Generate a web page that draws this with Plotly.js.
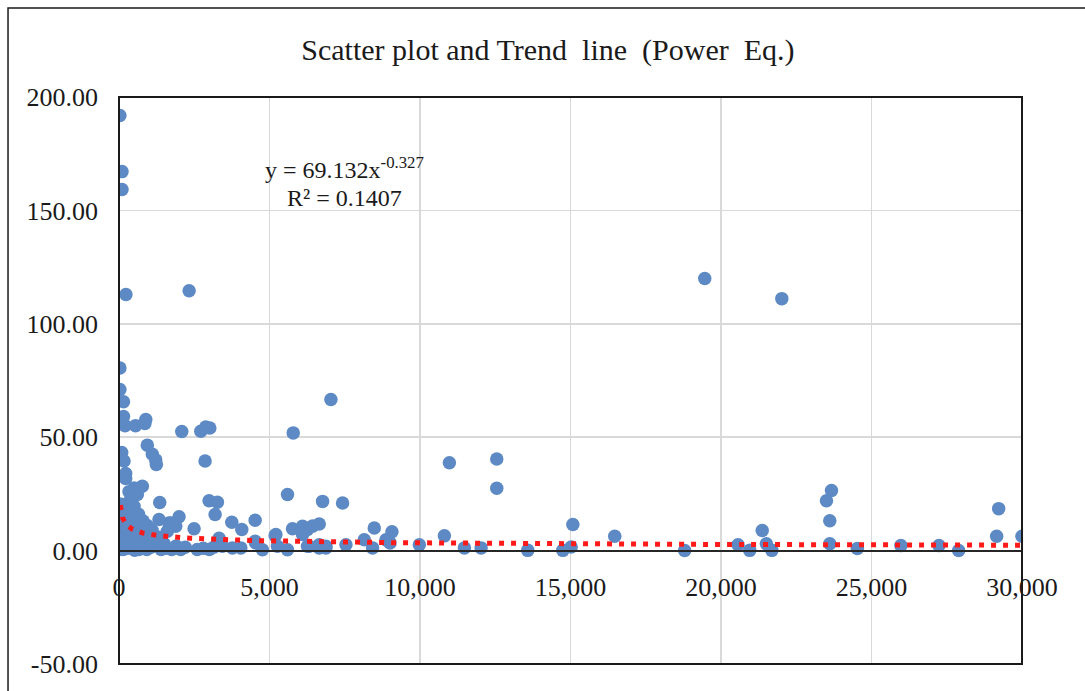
<!DOCTYPE html>
<html>
<head>
<meta charset="utf-8">
<script src="https://cdn.plot.ly/plotly-3.0.1.min.js"></script>
<style>html,body{margin:0;padding:0;background:#fff;}#chart{width:1085px;height:691px;}</style>
</head>
<body>
<div id="chart"></div>
<script>
// Observed data points (x, y)
const xVals = [
  30,100,100,230,2330,19460,22020,
  30,30,150,150,200,550,890,860,
  2085,2717,2883,3017,2860,5788,7040,
  90,166,222,222,941,1108,1220,1241,
  333,499,775,389,609,1353,2993,3270,3193,
  5598,6763,7428,166,499,
  3748,4523,4080,1330,1996,2494,1718,1663,1885,1607,
  5765,6097,6652,6430,6263,5188,5211,6097,4766,5598,3326,4523,
  10976,12550,12550,8481,9068,10810,8149,7540,8425,8870,9004,9978,11475,12030,
  6652,6874,6319,
  15078,16470,15023,13580,14745,18792,20565,20954,21370,21507,21690,
  23504,23671,23614,23614,24530,25976,27240,27895,29225,29158,30000,
  3436,3768,4047,4546,5265,6263,6652,6874,
  30,60,80,40,60,30,50,30,
  150,130,170,120,160,140,
  260,240,280,250,300,
  380,360,400,390,420,
  520,500,540,560,520,
  650,680,630,700,660,
  800,760,820,780,
  950,900,980,920,
  1100,1150,1060,
  1300,1250,1400,1500,1600,1750,1900,2050,2200,
  2600,2800,3000,3150
];
const yVals = [
  191.8,167.1,159.2,112.9,114.6,120.0,111.1,
  80.5,71.0,65.6,59.1,55.1,55.1,57.8,56.0,
  52.5,52.6,54.5,54.1,39.5,51.9,66.6,
  43.2,39.5,34.0,31.8,46.5,42.5,40.0,38.0,
  26.0,27.6,28.4,22.5,24.7,21.2,22.0,21.3,15.9,
  24.7,21.7,21.0,20.3,19.5,
  12.5,13.4,9.3,13.7,14.9,9.6,12.2,12.2,10.7,8.5,
  9.6,10.7,11.7,10.8,9.3,6.6,7.1,7.1,0.4,0.4,5.4,4.1,
  38.7,40.4,27.5,10.0,8.3,6.5,4.8,2.6,1.2,4.8,3.4,2.6,1.2,1.2,
  2.6,1.9,1.9,
  11.5,6.3,1.6,0.1,0.1,0.0,2.6,0.1,8.9,3.0,0.1,
  22.0,26.5,13.2,3.0,0.9,2.2,2.2,0.0,18.5,6.3,6.3,
  1.9,1.2,1.2,3.4,1.9,1.9,1.2,1.2,
  20.5,17,14,11,8,5,2,0.5,
  16,12,9,6,3,0.5,
  15,11,8,4,1,
  17,13,9,5,1.5,
  14,10,6,2.5,0.2,
  16,12,8,4,0.5,
  13,9,5,1,
  11,7,3,0.5,
  9,5,1.5,
  6,2,0.5,3,1,0.5,2,0.5,1.5,
  0.5,1,0.5,1.5
];

// Trend line shown in the chart: y = 69.132 x^-0.327
const trendCoef = 69.132;
const trendExp = -0.327;
const trendStart = 44;
const trendEnd = 30000;

const xTicks = [0, 5000, 10000, 15000, 20000, 25000, 30000];
const yTicks = [-50, 0, 50, 100, 150, 200];
const yTickText = ['-50.00', '0.00', '50.00', '100.00', '150.00', '200.00'];

const trendX = [];
const trendY = [];
for (let i = 0; i <= 300; i++) {
  const x = trendStart * Math.pow(trendEnd / trendStart, i / 300);
  trendX.push(x);
  trendY.push(trendCoef * Math.pow(x, trendExp));
}

const serif = 'Liberation Serif, Times New Roman, serif';

const data = [
  {
    type: 'scatter', mode: 'markers', x: xVals, y: yVals,
    marker: {size: 13.5, color: '#5d8ac5'}, hoverinfo: 'x+y', showlegend: false
  },
  {
    type: 'scatter', mode: 'lines', x: trendX, y: trendY,
    line: {color: '#ff1a1a', width: 5, dash: '5px,7px'}, showlegend: false
  }
];

const layout = {
  width: 1085, height: 691,
  margin: {l: 119, r: 63, t: 97, b: 27},
  paper_bgcolor: '#ffffff', plot_bgcolor: '#ffffff',
  title: {
    text: 'Scatter plot and Trend  line  (Power  Eq.)',
    font: {family: serif, size: 30, color: '#1a1a1a'},
    x: 0.505, xanchor: 'center', y: 0.928, yanchor: 'middle'
  },
  xaxis: {
    range: [0, 30000], tickvals: xTicks, tickformat: ',d',
    showgrid: true, gridcolor: '#d9d9d9', gridwidth: 1.5,
    zeroline: false, showline: true, linecolor: '#262626', linewidth: 2,
    anchor: 'free', position: 0.2, ticks: '', ticklabelstandoff: 13,
    tickfont: {family: serif, size: 26, color: '#1a1a1a'}
  },
  yaxis: {
    range: [-50, 200], tickvals: yTicks, ticktext: yTickText,
    showgrid: true, gridcolor: '#d9d9d9', gridwidth: 1.5,
    zeroline: false, showline: false, ticks: '', ticklabelstandoff: 20,
    tickfont: {family: serif, size: 26, color: '#1a1a1a'}
  },
  shapes: [
    {type: 'rect', xref: 'paper', yref: 'paper', x0: 0, x1: 1, y0: 0, y1: 1,
     line: {color: '#1a1a1a', width: 2}, layer: 'above'},
    {type: 'rect', xref: 'paper', yref: 'paper', x0: -0.1229, x1: 1.5, y0: -0.5, y1: 1.157,
     line: {color: '#1a1a1a', width: 1.5}}
  ],
  annotations: [
    {xref: 'x', yref: 'y', x: 7480, y: 168.5, text: 'y = 69.132x<sup>-0.327</sup>',
     showarrow: false, xanchor: 'center', yanchor: 'middle',
     font: {family: serif, size: 24, color: '#1a1a1a'}},
    {xref: 'x', yref: 'y', x: 7480, y: 155.5, text: 'R² = 0.1407',
     showarrow: false, xanchor: 'center', yanchor: 'middle',
     font: {family: serif, size: 24, color: '#1a1a1a'}}
  ]
};

Plotly.newPlot('chart', data, layout, {displayModeBar: false, staticPlot: true});
</script>
</body>
</html>
